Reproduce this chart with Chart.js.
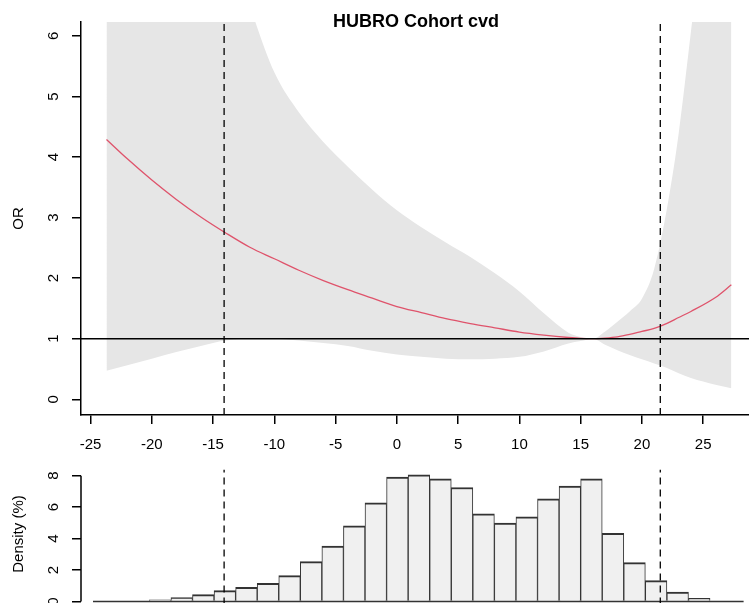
<!DOCTYPE html>
<html>
<head>
<meta charset="utf-8">
<script src="https://cdn.jsdelivr.net/npm/chart.js@4.4.1/dist/chart.umd.min.js"></script>
<style>
html, body { margin: 0; padding: 0; background: #fff; overflow: hidden; }
#topChart { position: absolute; left: 0; top: 0; }
#histChart { position: absolute; left: 0; top: 440px; }
</style>
</head>
<body>
<canvas id="topChart" width="749" height="460"></canvas>
<canvas id="histChart" width="749" height="200"></canvas>
<script>
// exposure values where the OR curve and its band were read
var xVals = [-23.7, -22, -20, -18, -16, -14, -12, -10, -8, -6, -4, -2, 0, 2, 4, 6, 8, 10, 12, 14, 15, 16, 17, 18, 19, 20, 21, 22, 23, 24, 26, 27.3];
var orVals = [4.29, 3.97, 3.62, 3.30, 3.01, 2.75, 2.51, 2.32, 2.13, 1.96, 1.81, 1.67, 1.53, 1.43, 1.33, 1.25, 1.18, 1.11, 1.06, 1.02, 1.005, 1.00, 1.01, 1.03, 1.07, 1.12, 1.17, 1.25, 1.35, 1.45, 1.68, 1.89];
var upperVals = [12, 11, 10, 9, 8.5, 7.8, 6.5, 5.40, 4.74, 4.25, 3.84, 3.46, 3.12, 2.84, 2.59, 2.35, 2.08, 1.78, 1.42, 1.10, 1.03, 1.00, 1.12, 1.28, 1.45, 1.66, 2.15, 3.10, 4.39, 6.07, 9.5, 11];
var lowerVals = [0.47, 0.56, 0.67, 0.78, 0.88, 0.97, 1.00, 1.00, 0.97, 0.93, 0.88, 0.80, 0.74, 0.70, 0.67, 0.66, 0.67, 0.70, 0.79, 0.92, 0.96, 1.00, 0.90, 0.81, 0.73, 0.66, 0.59, 0.52, 0.43, 0.35, 0.24, 0.18];

var refOR = 1;
var cutoffs = [-14.1, 21.5];

var xTicks = [-25, -20, -15, -10, -5, 0, 5, 10, 15, 20, 25];
var yTicks = [0, 1, 2, 3, 4, 5, 6];
var xMin = -25.78, xMax = 28.74;
var yMin = -0.26, yMax = 6.23;

// histogram
var binMids = [-19.32, -17.56, -15.80, -14.04, -12.28, -10.52, -8.76, -7.00, -5.24, -3.48, -1.72, 0.04, 1.80, 3.56, 5.32, 7.08, 8.84, 10.60, 12.36, 14.12, 15.88, 17.64, 19.40, 21.16, 22.92, 24.68];
var density = [0.10, 0.24, 0.43, 0.69, 0.90, 1.16, 1.64, 2.53, 3.52, 4.81, 6.27, 7.91, 8.06, 7.80, 7.25, 5.57, 4.98, 5.38, 6.53, 7.34, 7.80, 4.34, 2.47, 1.32, 0.59, 0.20];
var histBaseX = [-24.8, 28.3];
var histTicks = [0, 2, 4, 6, 8];
var histMin = -0.2, histMax = 8.4;

var fontFam = "'Liberation Sans', Arial, sans-serif";

function pts(xs, ys) {
    return xs.map(function (x, i) { return { x: x, y: ys[i] }; });
}

function fixedTicks(list) {
    return function (scale) {
        scale.ticks = list.map(function (v) { return { value: v }; });
    };
}

var axisGrid = { display: true, drawOnChartArea: false, drawTicks: true, tickLength: 9, color: '#000', tickColor: '#000', lineWidth: 1.5 };

// y labels in R are turned along the axis, so they are drawn here
function sideText(chart, scaleId, ticks, title, titleMid) {
    var ctx = chart.ctx;
    var sc = chart.scales[scaleId];
    ctx.save();
    ctx.fillStyle = '#000';
    ctx.textAlign = 'center';
    ctx.textBaseline = 'middle';
    ctx.font = '15px ' + fontFam;
    ticks.forEach(function (v) {
        ctx.save();
        ctx.translate(54, sc.getPixelForValue(v));
        ctx.rotate(-Math.PI / 2);
        ctx.fillText(String(v), 0, 0);
        ctx.restore();
    });
    ctx.save();
    ctx.translate(18.5, titleMid);
    ctx.rotate(-Math.PI / 2);
    ctx.fillText(title, 0, 0);
    ctx.restore();
    ctx.restore();
}

var topText = {
    id: 'topText',
    afterDraw: function (chart) {
        var area = chart.chartArea;
        sideText(chart, 'y', yTicks, 'OR', (area.top + area.bottom) / 2);
        var ctx = chart.ctx;
        ctx.save();
        ctx.fillStyle = '#000';
        ctx.font = 'bold 18px ' + fontFam;
        ctx.textAlign = 'center';
        ctx.textBaseline = 'middle';
        ctx.fillText('HUBRO Cohort cvd', (area.left + area.right) / 2 + 1, area.top);
        ctx.restore();
    }
};

var vLines = cutoffs.map(function (c) {
    return {
        type: 'line',
        data: [{ x: c, y: yMin }, { x: c, y: yMax }],
        borderColor: '#000',
        borderWidth: 1.3,
        borderDash: [7, 5],
        pointRadius: 0,
        fill: false
    };
});

new Chart(document.getElementById('topChart'), {
    type: 'line',
    data: {
        datasets: vLines.concat([
            {
                data: [{ x: xMin, y: refOR }, { x: xMax, y: refOR }],
                borderColor: '#000',
                borderWidth: 1.5,
                pointRadius: 0,
                fill: false
            },
            {
                data: pts(xVals, orVals),
                borderColor: '#DF536B',
                borderWidth: 1.3,
                pointRadius: 0,
                cubicInterpolationMode: 'monotone',
                fill: false
            },
            {
                data: pts(xVals, upperVals),
                borderColor: 'rgba(0,0,0,0)',
                borderWidth: 0,
                backgroundColor: '#e6e6e6',
                pointRadius: 0,
                cubicInterpolationMode: 'monotone',
                fill: '+1'
            },
            {
                data: pts(xVals, lowerVals),
                borderColor: 'rgba(0,0,0,0)',
                borderWidth: 0,
                pointRadius: 0,
                cubicInterpolationMode: 'monotone',
                fill: false
            }
        ])
    },
    options: {
        responsive: false,
        animation: false,
        layout: { padding: { top: 22, left: 0, right: 0, bottom: 0 } },
        plugins: { legend: { display: false }, tooltip: { enabled: false } },
        scales: {
            x: {
                type: 'linear',
                min: xMin,
                max: xMax,
                afterBuildTicks: fixedTicks(xTicks),
                afterFit: function (s) { s.height = 45; },
                grid: axisGrid,
                border: { display: true, color: '#000', width: 1.5 },
                ticks: { color: '#000', font: { family: fontFam, size: 15 }, padding: 12, maxRotation: 0, autoSkip: false }
            },
            y: {
                type: 'linear',
                min: yMin,
                max: yMax,
                afterBuildTicks: fixedTicks(yTicks),
                afterFit: function (s) { s.width = 81; },
                grid: axisGrid,
                border: { display: true, color: '#000', width: 1.5 },
                ticks: { display: false }
            }
        }
    },
    plugins: [topText]
});

var histText = {
    id: 'histText',
    afterDraw: function (chart) {
        var area = chart.chartArea;
        var sc = chart.scales.y;
        var ctx = chart.ctx;
        ctx.save();
        ctx.strokeStyle = '#000';
        ctx.lineWidth = 1.5;
        ctx.beginPath();
        ctx.moveTo(area.left, sc.getPixelForValue(histTicks[histTicks.length - 1]));
        ctx.lineTo(area.left, sc.getPixelForValue(histTicks[0]));
        ctx.stroke();
        ctx.restore();
        sideText(chart, 'y', histTicks, 'Density (%)', (area.top + area.bottom) / 2 - 3);
    }
};

new Chart(document.getElementById('histChart'), {
    type: 'bar',
    data: {
        datasets: cutoffs.map(function (c) {
            return {
                type: 'line',
                data: [{ x: c, y: histMin }, { x: c, y: histMax }],
                borderColor: '#000',
                borderWidth: 1.3,
                borderDash: [7, 5],
                pointRadius: 0,
                fill: false
            };
        }).concat([
            {
                type: 'line',
                data: [{ x: histBaseX[0], y: 0 }, { x: histBaseX[1], y: 0 }],
                borderColor: '#333',
                borderWidth: 1.5,
                pointRadius: 0,
                fill: false
            },
            {
                type: 'bar',
                data: pts(binMids, density),
                backgroundColor: '#f0f0f0',
                borderColor: '#333',
                borderWidth: { top: 2, left: 1, right: 1, bottom: 0 },
                barPercentage: 1,
                categoryPercentage: 1
            }
        ])
    },
    options: {
        responsive: false,
        animation: false,
        layout: { padding: { top: 29.4, left: 0, right: 0, bottom: 35.4 } },
        plugins: { legend: { display: false }, tooltip: { enabled: false } },
        scales: {
            x: {
                type: 'linear',
                min: xMin,
                max: xMax,
                offset: false,
                display: false,
                grid: { offset: false }
            },
            y: {
                type: 'linear',
                min: histMin,
                max: histMax,
                afterBuildTicks: fixedTicks(histTicks),
                afterFit: function (s) { s.width = 81; },
                grid: axisGrid,
                border: { display: false },
                ticks: { display: false }
            }
        }
    },
    plugins: [histText]
});
</script>
</body>
</html>
